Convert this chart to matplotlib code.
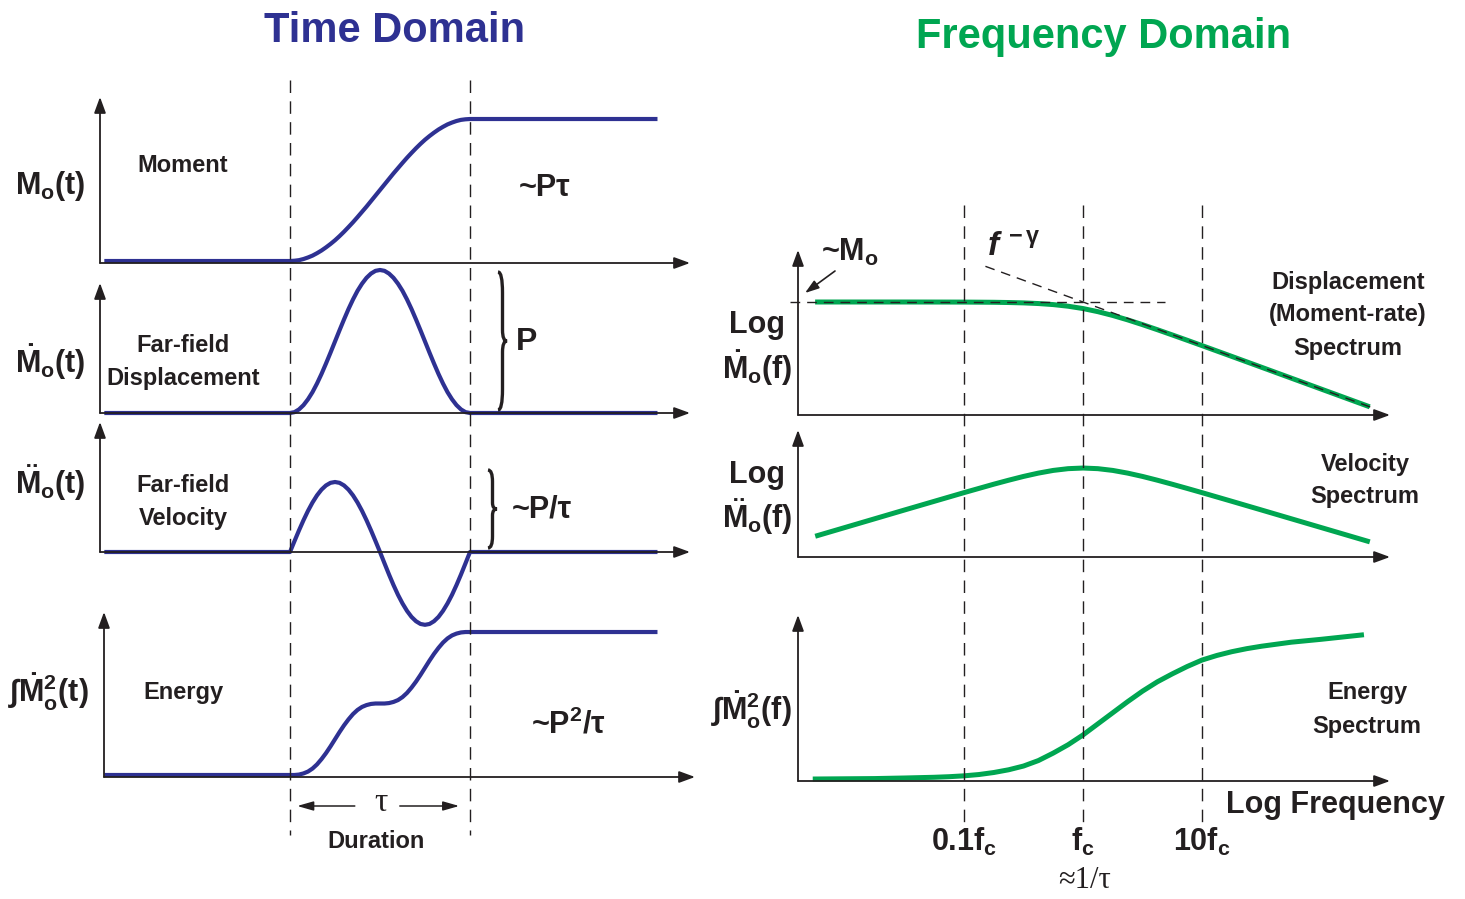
import matplotlib
matplotlib.use('Agg')
import matplotlib.pyplot as plt
from matplotlib.transforms import blended_transform_factory
from matplotlib.path import Path
from matplotlib.patches import PathPatch

# ---- time domain (t in units of the duration tau, amplitudes normalised) ----
t_time = [-1.02,
          0.000, 0.025, 0.050, 0.075, 0.100, 0.125, 0.150, 0.175, 0.200, 0.225,
          0.250, 0.275, 0.300, 0.325, 0.350, 0.375, 0.400, 0.425, 0.450, 0.475,
          0.500, 0.525, 0.550, 0.575, 0.600, 0.625, 0.650, 0.675, 0.700, 0.725,
          0.750, 0.775, 0.800, 0.825, 0.850, 0.875, 0.900, 0.925, 0.950, 0.975,
          1.000, 2.03]
moment = [0,
          0.000, 0.002, 0.006, 0.014, 0.025, 0.038, 0.055, 0.074, 0.096, 0.120,
          0.146, 0.175, 0.206, 0.239, 0.273, 0.309, 0.346, 0.383, 0.422, 0.461,
          0.500, 0.539, 0.578, 0.617, 0.654, 0.691, 0.727, 0.761, 0.794, 0.825,
          0.854, 0.880, 0.904, 0.926, 0.945, 0.962, 0.975, 0.986, 0.994, 0.998,
          1.000, 1.000]
displacement = [0,
                0.000, 0.006, 0.025, 0.055, 0.096, 0.146, 0.206, 0.273, 0.346, 0.422,
                0.500, 0.578, 0.654, 0.727, 0.794, 0.854, 0.904, 0.945, 0.975, 0.994,
                1.000, 0.994, 0.975, 0.945, 0.904, 0.854, 0.794, 0.727, 0.654, 0.578,
                0.500, 0.422, 0.346, 0.273, 0.206, 0.146, 0.096, 0.055, 0.025, 0.006,
                0.000, 0.000]
velocity = [0,
            0.000, 0.156, 0.309, 0.454, 0.588, 0.707, 0.809, 0.891, 0.951, 0.988,
            1.000, 0.988, 0.951, 0.891, 0.809, 0.707, 0.588, 0.454, 0.309, 0.156,
            0.000, -0.162, -0.321, -0.472, -0.612, -0.735, -0.841, -0.927, -0.989, -1.028,
            -1.040, -1.028, -0.989, -0.927, -0.841, -0.735, -0.612, -0.472, -0.321, -0.162,
            0.000, 0.000]
energy = [0,
          0.000, 0.000, 0.003, 0.011, 0.024, 0.045, 0.074, 0.111, 0.153, 0.200,
          0.250, 0.300, 0.347, 0.389, 0.426, 0.455, 0.476, 0.489, 0.497, 0.500,
          0.500, 0.500, 0.503, 0.511, 0.524, 0.545, 0.574, 0.611, 0.653, 0.700,
          0.750, 0.800, 0.847, 0.889, 0.926, 0.955, 0.976, 0.989, 0.997, 1.000,
          1.000, 1.000]

# ---- frequency domain (x = log10(f/fc), y = log amplitude) ----
logf = [-2.23, -2.0, -1.5, -1.0, -0.75, -0.625, -0.5, -0.375, -0.25, -0.125, 0.0,
        0.125, 0.25, 0.375, 0.5, 0.625, 0.75, 0.875, 1.0, 1.25, 1.5, 2.0, 2.39]
disp_spec = [0, 0, 0, -0.004, -0.013, -0.024, -0.041, -0.071, -0.119, -0.194, -0.301,
             -0.444, -0.619, -0.821, -1.041, -1.274, -1.514, -1.758, -2.004, -2.501,
             -3.000, -4.000, -4.780]
vel_spec = [-2.23, -2.0, -1.5, -1.004, -0.763, -0.649, -0.541, -0.446, -0.369, -0.319, -0.301,
            -0.319, -0.369, -0.446, -0.541, -0.649, -0.764, -0.883, -1.004, -1.251,
            -1.500, -2.000, -2.390]
logf_e = [-2.25, -1.75, -1.5, -1.25, -1.125, -1.0, -0.875, -0.75, -0.625, -0.5, -0.375,
          -0.25, -0.125, 0.0, 0.125, 0.25, 0.375, 0.5, 0.625, 0.75, 0.875, 1.0,
          1.125, 1.25, 1.375, 1.5, 1.75, 2.0, 2.34]
energy_spec = [0, 0.003, 0.007, 0.012, 0.016, 0.022, 0.031, 0.045, 0.064, 0.090, 0.128,
               0.180, 0.238, 0.306, 0.383, 0.460, 0.537, 0.610, 0.675, 0.730, 0.781, 0.826,
               0.858, 0.884, 0.905, 0.922, 0.950, 0.970, 1.000]
freq_marks = [-1.0, 0.0, 1.0]
freq_labels = ['0.1f$_c$', 'f$_c$', '10f$_c$']

BLUE = '#2E3192'
GREEN = '#00A651'
INK = '#231F20'
SANS = ['Liberation Sans', 'DejaVu Sans']
SERIF = ['Liberation Serif', 'DejaVu Serif']

plt.rcParams['font.family'] = SANS
plt.rcParams['font.weight'] = 'bold'
plt.rcParams['mathtext.fontset'] = 'custom'
plt.rcParams['mathtext.rm'] = 'Liberation Sans:bold'
plt.rcParams['mathtext.bf'] = 'Liberation Sans:bold'
plt.rcParams['mathtext.it'] = 'Liberation Sans:bold:italic'
plt.rcParams['mathtext.default'] = 'rm'

W, H = 1465, 899
fig = plt.figure(figsize=(W / 100, H / 100), dpi=100)

# overlay in pixel units for labels and guides
ov = fig.add_axes([0, 0, 1, 1], zorder=5)
ov.set_xlim(0, W)
ov.set_ylim(H, 0)
ov.set_axis_off()
ov.patch.set_alpha(0)

arrow_kw = dict(arrowstyle='-|>,head_length=0.6,head_width=0.22', color=INK,
                lw=1.3, mutation_scale=16, shrinkA=0, shrinkB=0)


def panel(x0, y0, x1, y1, xlim, ylim):
    ax = fig.add_axes([x0 / W, 1 - y1 / H, (x1 - x0) / W, (y1 - y0) / H])
    ax.set_axis_off()
    ax.patch.set_alpha(0)
    ax.set_xlim(*xlim)
    ax.set_ylim(*ylim)
    ax.annotate('', xy=(1, 0), xytext=(0, 0), xycoords='axes fraction', arrowprops=arrow_kw)
    ax.annotate('', xy=(0, 1), xytext=(0, 0), xycoords='axes fraction', arrowprops=arrow_kw)
    return ax


def T(x, y, s, size, **kw):
    kw.setdefault('ha', 'center')
    kw.setdefault('va', 'center')
    kw.setdefault('color', INK)
    ov.text(x, y, s, fontsize=size, **kw)


def brace(x, y0, y1, w):
    h = y1 - y0
    ym = (y0 + y1) / 2
    verts = [(x, y0), (x + w / 2, y0), (x + w / 2, y0 + 0.15 * h),
             (x + w / 2, ym - 0.08 * h), (x + w / 2, ym), (x + w, ym),
             (x + w / 2, ym), (x + w / 2, ym + 0.08 * h),
             (x + w / 2, y1 - 0.15 * h), (x + w / 2, y1), (x, y1)]
    codes = [Path.MOVETO, Path.CURVE3, Path.CURVE3, Path.LINETO, Path.CURVE3, Path.CURVE3,
             Path.CURVE3, Path.CURVE3, Path.LINETO, Path.CURVE3, Path.CURVE3]
    ov.add_patch(PathPatch(Path(verts, codes), fc='none', ec=INK, lw=2.4))


# ---- left column ----
tl = (-190 / 180, 400 / 180)
a1 = panel(100, 97, 690, 263, tl, (-0.014, 1.155))
a2 = panel(100, 283, 690, 413, tl, (0, 0.909))
a3 = panel(100, 422, 690, 552, tl, (0, 1.857))
a4 = panel(104, 612, 695, 777, (-186 / 180, 405 / 180), (-0.014, 1.14))
for ax, y in zip([a1, a2, a3, a4], [moment, displacement, velocity, energy]):
    ax.plot(t_time, y, color=BLUE, lw=3, clip_on=False, solid_joinstyle='round')

tr = blended_transform_factory(a1.transData, ov.transData)
for t in [0, 1]:
    ov.plot([t, t], [80, 835], transform=tr, color=INK, lw=1, ls=(0, (9, 6)))

# duration arrows
d_kw = dict(arrowstyle='-|>,head_length=0.7,head_width=0.2', color=INK, lw=1.1,
            mutation_scale=14, shrinkA=0, shrinkB=0)
ov.annotate('', xy=(0.04, 806), xytext=(0.36, 806), xycoords=tr, textcoords=tr, arrowprops=d_kw)
ov.annotate('', xy=(0.94, 806), xytext=(0.61, 806), xycoords=tr, textcoords=tr, arrowprops=d_kw)
T(381, 803, 'τ', 24, family=SERIF, weight='normal')
T(376, 842, 'Duration', 17)

T(395, 31, 'Time Domain', 30, color=BLUE)
T(50, 186, r'$M_o(t)$', 22)
T(50, 362, r'$\dot{M}_o(t)$', 22)
T(50, 483, r'$\ddot{M}_o(t)$', 22)
T(8, 692, r'$\int\dot{M}_o^2(t)$', 22, ha='left')
T(183, 165, 'Moment', 17)
T(183, 345, 'Far-field', 17)
T(183, 378, 'Displacement', 17)
T(183, 486, 'Far-field', 17)
T(183, 519, 'Velocity', 17)
T(183, 693, 'Energy', 17)
T(545, 188, '~Pτ', 22)
brace(498, 272, 410, 9)
T(527, 342, 'P', 23)
brace(488, 470, 548, 9)
T(542, 510, '~P/τ', 22)
T(568, 725, '~P$^2$/τ', 22)

# ---- right column ----
fl = ((798 - 1083) / 119, (1390 - 1083) / 119)
b1 = panel(798, 250, 1390, 415, fl, ((302 - 415) / 21.75, (302 - 250) / 21.75))
b2 = panel(798, 430, 1390, 557, fl, ((457.5 - 557) / 35, (457.5 - 430) / 35))
b3 = panel(798, 615, 1390, 781, fl, (-2 / 144, 164 / 144))
b1.plot(logf, disp_spec, color=GREEN, lw=3.6, clip_on=False, solid_joinstyle='round')
b2.plot(logf, vel_spec, color=GREEN, lw=3.6, clip_on=False, solid_joinstyle='round')
b3.plot(logf_e, energy_spec, color=GREEN, lw=3.6, clip_on=False, solid_joinstyle='round')
b1.plot([-2.46, 0.69], [0, 0], color=INK, lw=1, ls=(0, (7, 5)), clip_on=False, zorder=3)
b1.plot([-0.82, 2.42], [1.64, -4.84], color=INK, lw=1, ls=(0, (7, 5)), clip_on=False, zorder=3)

trr = blended_transform_factory(b1.transData, ov.transData)
for x, lab in zip(freq_marks, freq_labels):
    ov.plot([x, x], [205, 822], transform=trr, color=INK, lw=1, ls=(0, (9, 6)))
    ov.text(x, 842, lab, transform=trr, fontsize=22, ha='center', va='center', color=INK)
T(1085, 880, '≈1/τ', 22, family=SERIF, weight='normal')
T(1445, 805, 'Log Frequency', 22, ha='right')

T(1104, 37, 'Frequency Domain', 30, color=GREEN)
ov.annotate('', xy=(805, 293), xytext=(835, 271), arrowprops=dict(
    arrowstyle='-|>,head_length=0.6,head_width=0.2', color=INK, lw=1.2,
    mutation_scale=14, shrinkA=0, shrinkB=0))
T(850, 252, r'~$M_o$', 22)
T(1014, 248, r'$\mathit{f}^{\,-\gamma}$', 24)
T(757, 325, 'Log', 22)
T(757, 368, r'$\dot{M}_o(f)$', 22)
T(757, 475, 'Log', 22)
T(757, 517, r'$\ddot{M}_o(f)$', 22)
T(792, 710, r'$\int\dot{M}_o^2(f)$', 22, ha='right')
T(1348, 282, 'Displacement', 17)
T(1348, 315, '(Moment-rate)', 17)
T(1348, 348, 'Spectrum', 17)
T(1365, 464, 'Velocity', 17)
T(1365, 497, 'Spectrum', 17)
T(1367, 693, 'Energy', 17)
T(1367, 727, 'Spectrum', 17)

fig.savefig('out.png', dpi=100)
